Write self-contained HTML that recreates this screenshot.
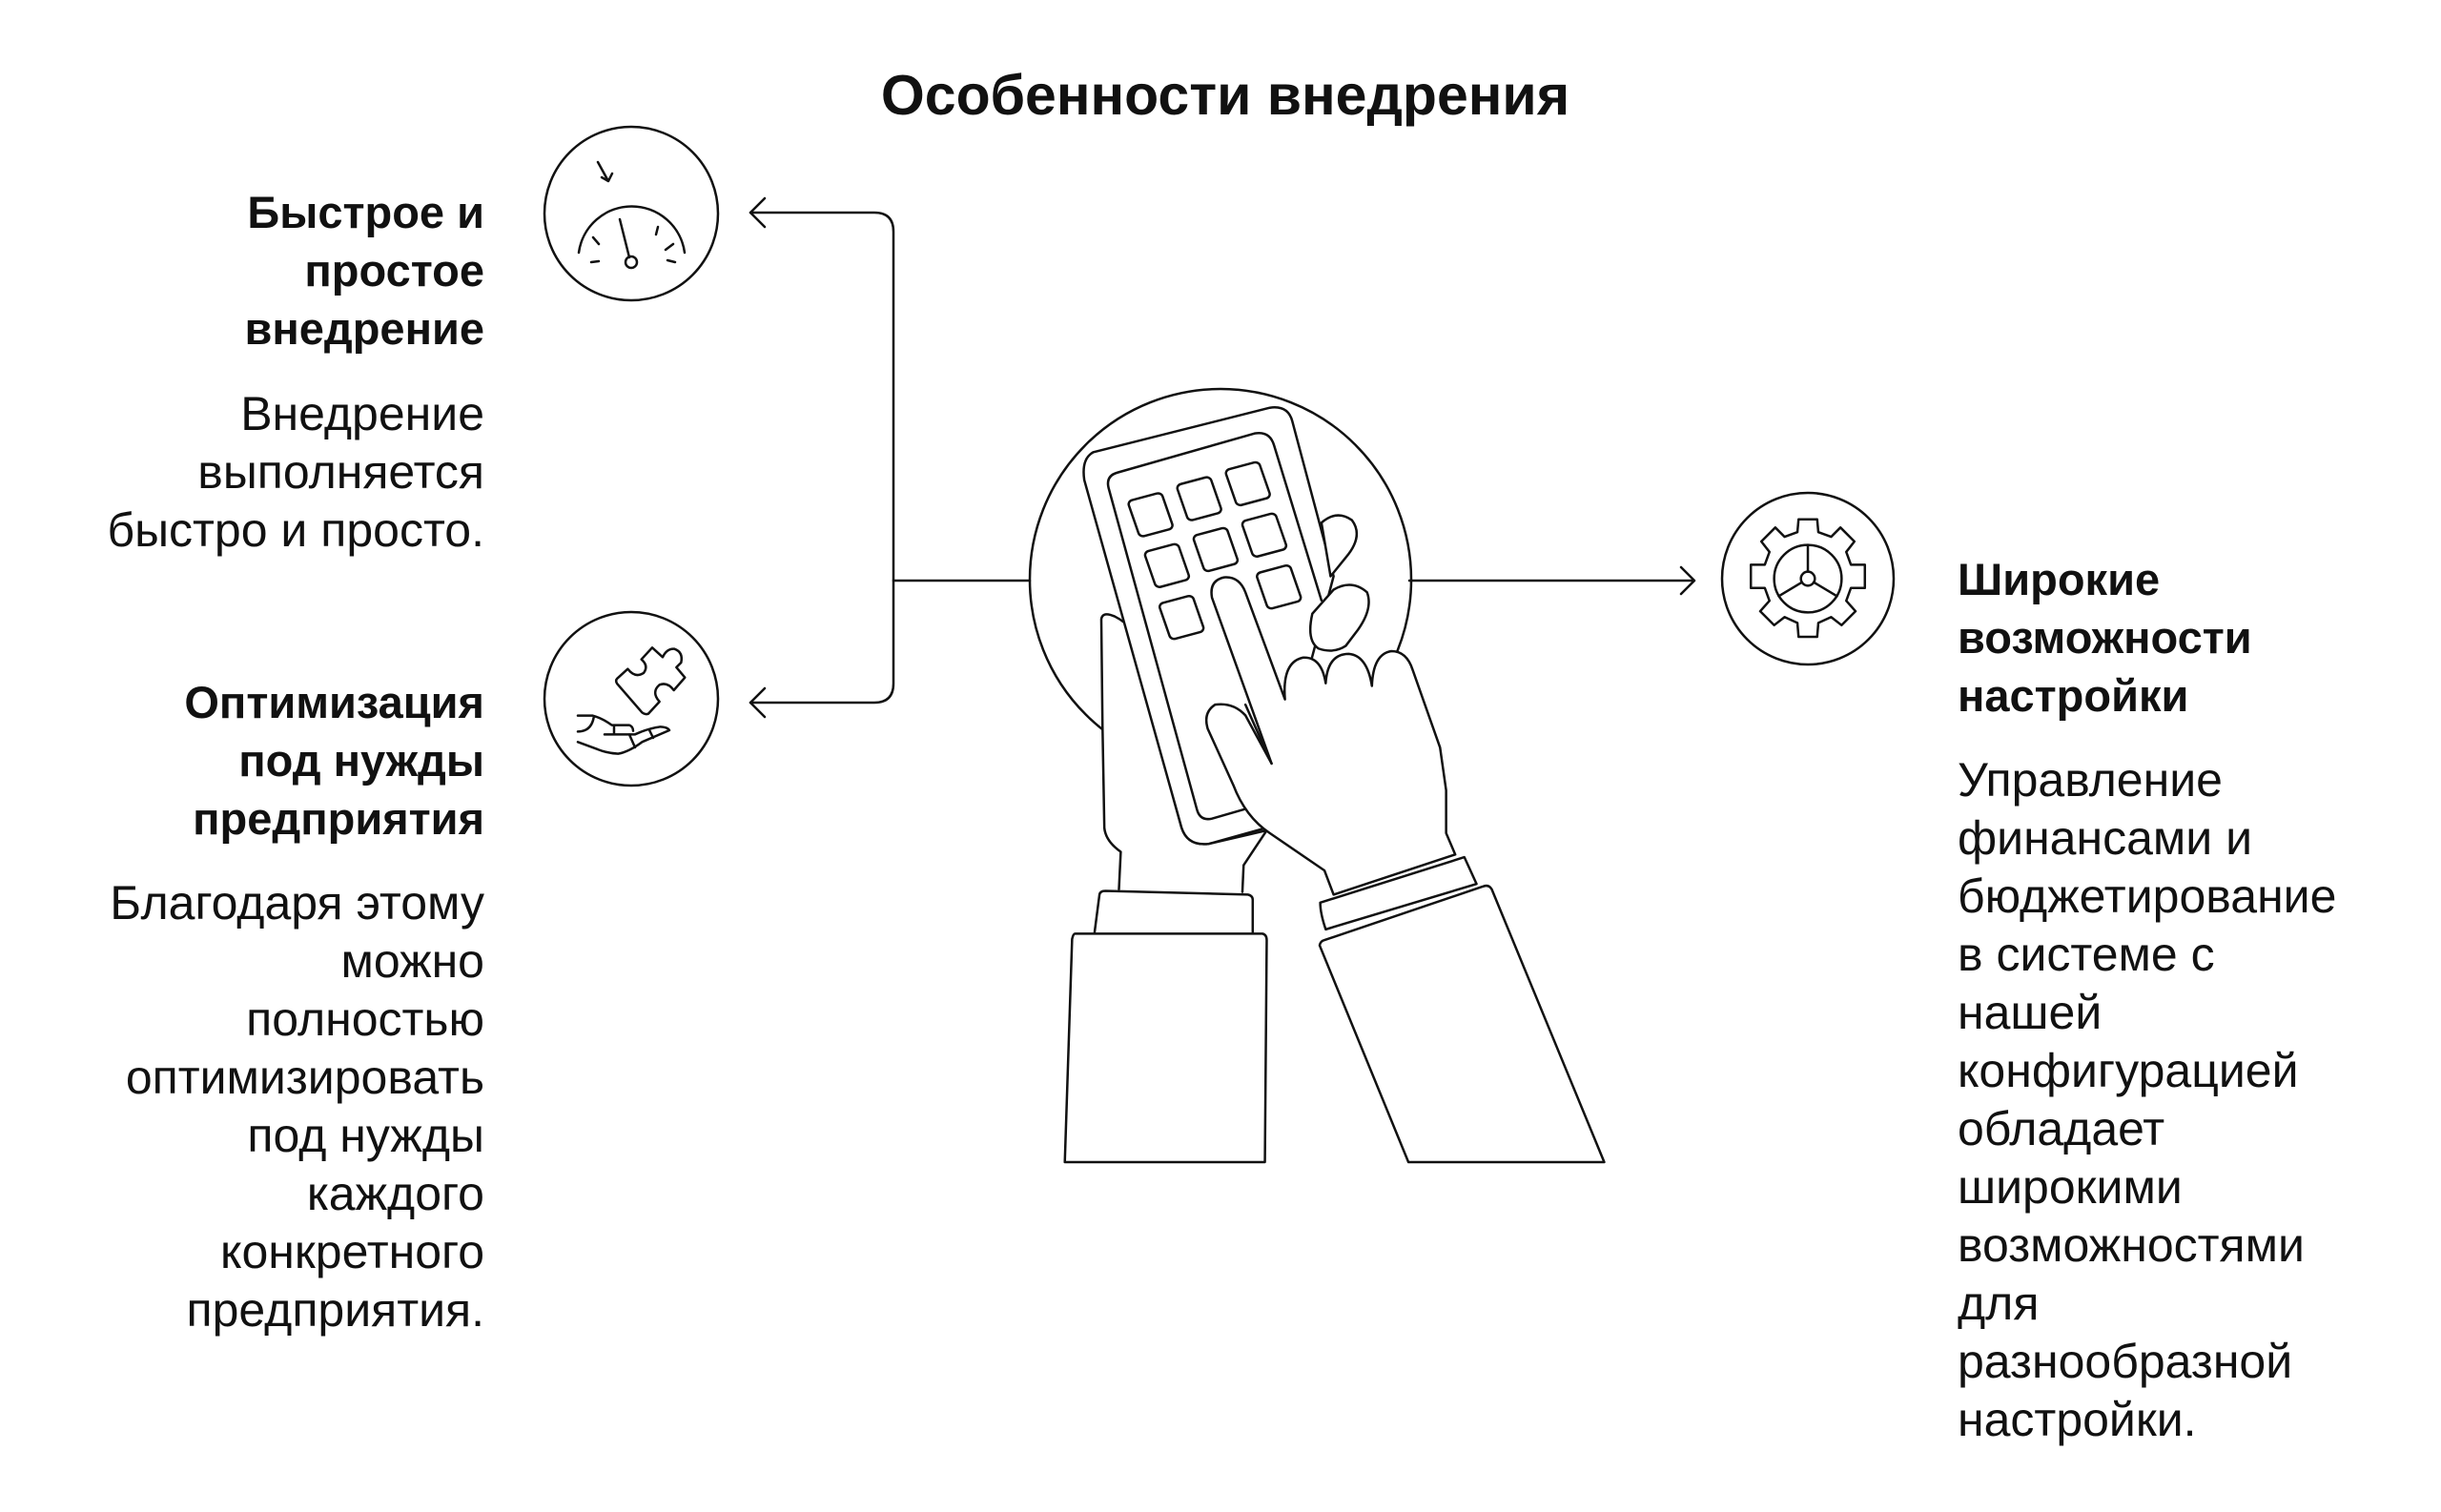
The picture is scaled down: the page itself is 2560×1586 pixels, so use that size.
<!DOCTYPE html>
<html><head><meta charset="utf-8"><style>
body{margin:0;background:#fff;width:2560px;height:1586px;position:relative;overflow:hidden;font-family:"Liberation Sans",sans-serif;color:#111}
.t{position:absolute;font-size:50px;line-height:61px}
.b{font-weight:bold;font-size:47px}
.r{text-align:right;right:2052px}
.l{left:2053px}
h1{position:absolute;margin:0;left:0;width:2570px;text-align:center;top:66px;font-size:59px;font-weight:bold}
svg{position:absolute;left:0;top:0}
</style></head><body>
<h1>Особенности внедрения</h1>
<div class="t b r" style="top:192px">Быстрое и<br>простое<br>внедрение</div>
<div class="t r" style="top:404px">Внедрение<br>выполняется<br>быстро и просто.</div>
<div class="t b r" style="top:706px">Оптимизация<br>под нужды<br>предприятия</div>
<div class="t r" style="top:917px">Благодаря этому<br>можно<br>полностью<br>оптимизировать<br>под нужды<br>каждого<br>конкретного<br>предприятия.</div>
<div class="t b l" style="top:577px">Широкие<br>возможности<br>настройки</div>
<div class="t l" style="top:788px">Управление<br>финансами и<br>бюджетирование<br>в системе с<br>нашей<br>конфигурацией<br>обладает<br>широкими<br>возможностями<br>для<br>разнообразной<br>настройки.</div>
<svg width="2560" height="1586" fill="none" stroke="#111" stroke-width="2.5" stroke-linecap="round" stroke-linejoin="round">
<path d="M787,223 H917 Q937,223 937,243 V717 Q937,737 917,737 H787"/>
<path d="M802,208 L787,223 L802,238 M802,722 L787,737 L802,752"/>
<path d="M937,609 H1080 M1478,609 H1777 M1763,595 L1777,609 L1763,623"/>
<circle cx="1280" cy="608" r="200"/>
<circle cx="662" cy="224" r="91"/>
<circle cx="662" cy="733" r="91"/>
<circle cx="1896" cy="607" r="90"/>
<path d="M607,265 A56,56 0 0 1 718,265"/>
<path d="M650,230 L660,270"/><circle cx="662" cy="275" r="6"/>
<path d="M622,249 L628,256 M690,238 L688,246 M706,256 L698,262 M620,275 L628,274 M700,273 L708,275"/>
<path d="M627,170 L638,190 M631,186 L638,190 L642,182"/>
<g transform="translate(560,630) scale(0.3333)">
<path vector-effect="non-scaling-stroke" d="M262,245 L295,215 Q318,245 345,228 Q362,205 338,185 L372,148 L405,178 Q418,150 442,152 Q470,162 463,195 L448,210 L475,242 L440,282 Q420,255 395,265 Q368,288 395,318 L360,356 Q350,360 340,352 L262,262 Q255,252 262,245 Z"/>
<path vector-effect="non-scaling-stroke" d="M138,362 H185 Q215,370 245,392 H300 Q312,397 312,410 M138,412 Q180,412 188,368 M222,421 H318 Q360,402 398,397 Q420,398 426,408 L340,445 Q300,475 265,482 Q230,480 200,468 L138,445 M252,392 V421 M300,421 L318,462 M362,405 L375,432"/>
</g>
<g transform="translate(1896,607) scale(1.22)">
<path vector-effect="non-scaling-stroke" d="M-8,-51 H8 L9,-40 L20,-36 L28,-44 L40,-32 L33,-23 L37,-12 H49 V8 H37 L33,19 L41,28 L29,40 L20,33 L9,38 L8,50 H-8 L-9,38 L-20,33 L-29,40 L-41,28 L-33,19 L-37,8 H-49 V-12 H-37 L-33,-23 L-40,-32 L-28,-44 L-20,-36 L-9,-40 Z"/>
<circle vector-effect="non-scaling-stroke" r="29"/><circle vector-effect="non-scaling-stroke" r="6"/>
<path vector-effect="non-scaling-stroke" d="M0,-6 V-29 M5,3 L25,15 M-5,3 L-25,15"/>
</g>
<g transform="translate(1000,380) scale(0.6378,0.5612)">
<path vector-effect="non-scaling-stroke" fill="#fff" d="M200,1068 L508,1068 Q515,1070 515,1080 L512,1495 L183,1495 L195,1078 Q197,1068 200,1068 Z"/>
<path vector-effect="non-scaling-stroke" fill="#fff" d="M232,1065 L240,995 Q241,988 250,988 L484,995 Q492,997 492,1005 L492,1065"/>
<path vector-effect="non-scaling-stroke" fill="#fff" d="M272,985 L275,915 Q250,895 248,870 L245,680 L243,480 Q245,465 265,475 Q300,495 310,540 L320,640 L375,870 Q385,905 420,900 L515,875 L477,940 L475,990"/>
<path vector-effect="non-scaling-stroke" fill="#fff" d="M230,168 L520,85 Q550,80 557,110 L625,400 L515,870 L420,900 Q385,905 375,870 L215,220 Q210,180 230,168 Z"/>
<path vector-effect="non-scaling-stroke" d="M255,235 Q250,212 270,206 L495,133 Q520,128 527,155 L605,445 M480,835 L425,853 Q405,858 400,835 L255,235"/>
<rect vector-effect="non-scaling-stroke" x="295" y="250" width="58" height="70" rx="8" transform="rotate(-17 324 285)"/>
<rect vector-effect="non-scaling-stroke" x="375" y="220" width="58" height="70" rx="8" transform="rotate(-17 404 255)"/>
<rect vector-effect="non-scaling-stroke" x="455" y="192" width="58" height="70" rx="8" transform="rotate(-17 484 227)"/>
<rect vector-effect="non-scaling-stroke" x="322" y="345" width="58" height="70" rx="8" transform="rotate(-17 351 380)"/>
<rect vector-effect="non-scaling-stroke" x="402" y="315" width="58" height="70" rx="8" transform="rotate(-17 431 350)"/>
<rect vector-effect="non-scaling-stroke" x="482" y="288" width="58" height="70" rx="8" transform="rotate(-17 511 323)"/>
<rect vector-effect="non-scaling-stroke" x="346" y="442" width="58" height="70" rx="8" transform="rotate(-17 375 477)"/>
<rect vector-effect="non-scaling-stroke" x="506" y="385" width="58" height="70" rx="8" transform="rotate(-17 535 420)"/>
<path vector-effect="non-scaling-stroke" fill="#fff" d="M605,300 Q630,275 655,295 Q675,325 645,365 L620,400 Z"/>
<path vector-effect="non-scaling-stroke" fill="#fff" d="M600,535 Q580,520 590,470 L625,425 Q655,405 680,430 Q690,460 665,500 L645,530 Q625,545 600,535 Z"/>
<path vector-effect="non-scaling-stroke" fill="#fff" d="M625,995 L610,950 L520,880 Q480,850 460,790 L418,685 Q410,655 430,640 Q460,635 480,660 L523,750 L425,440 Q420,408 445,402 Q470,400 480,430 L545,630 Q540,560 575,552 Q605,550 612,600 Q615,545 650,545 Q680,548 688,605 Q690,545 720,540 Q745,540 755,575 L800,720 L810,800 L810,880 L825,920 Z"/>
<path vector-effect="non-scaling-stroke" d="M523,750 L480,640"/>
<path vector-effect="non-scaling-stroke" fill="#fff" d="M612,1060 Q603,1030 603,1010 L840,925 L860,975 Z"/>
<path vector-effect="non-scaling-stroke" fill="#fff" d="M748,1495 L602,1090 Q603,1082 610,1080 L870,980 Q880,975 885,985 L1070,1495 Z"/>
</g>
</svg>
</body></html>
